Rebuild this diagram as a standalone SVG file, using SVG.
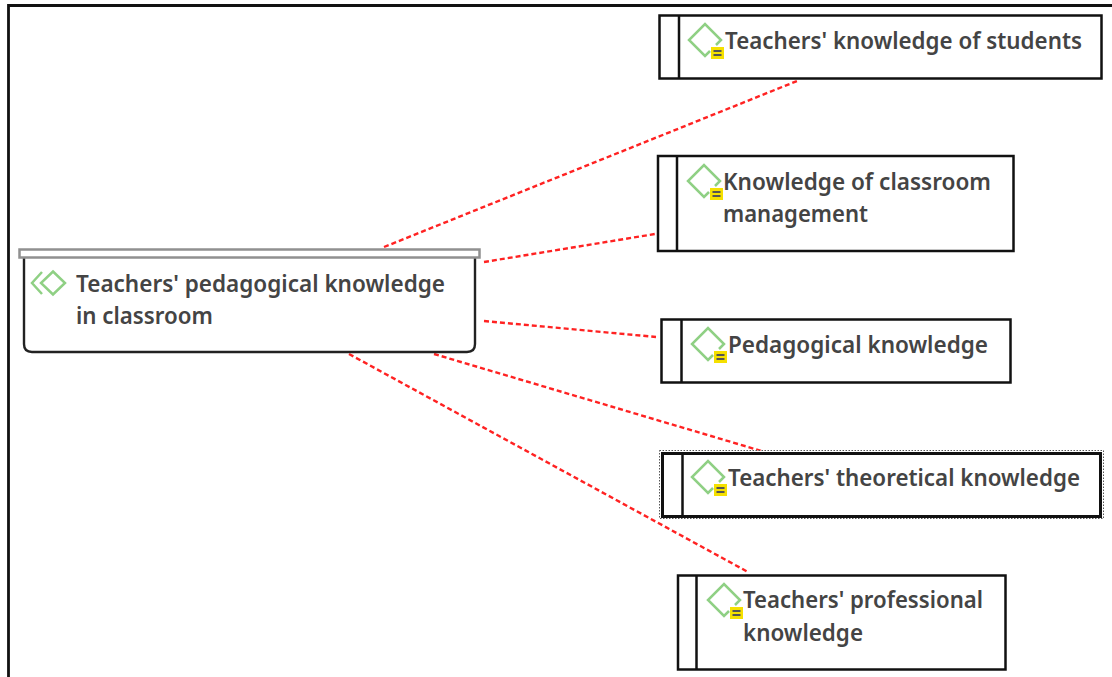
<svg xmlns="http://www.w3.org/2000/svg" width="1112" height="677" viewBox="0 0 1112 677">
<style>
.box{fill:#fff;stroke:#111;stroke-width:2.5}
.bar{fill:none;stroke:#111;stroke-width:2.5}
.t{font-family:"Noto Sans","Open Sans",sans-serif;font-size:23.500px;font-weight:600;fill:#444}
.d{fill:none;stroke:#8fd084;stroke-width:2.5;stroke-linejoin:miter}
.n{fill:#f5e000}
.nl{stroke:#555;stroke-width:2}
.c{stroke:#f22;stroke-width:2.400;stroke-dasharray:5 3;fill:none}
</style>
<defs>
<g id="ic">
<path class="d" d="M21 27 L16 32 L0 16 L16 0 L32 16 L27 21"/>
<rect class="n" x="22" y="23" width="13" height="12"/>
<path class="nl" d="M24.500 27H32.500M24.500 31H32.500"/>
</g>
</defs>
<rect width="1112" height="677" fill="#fff"/>
<path d="M8.500 677V5.500H1112" fill="none" stroke="#111" stroke-width="2.800"/>
<g id="connectors">
<path class="c" d="M384 247L797 81"/>
<path class="c" d="M484 262L655 234"/>
<path class="c" d="M484 321L656 337"/>
<path class="c" d="M434 354L765 452"/>
<path class="c" d="M349 354L748 572"/>
</g>
<g id="node-root">
<path d="M24 256V344Q24 352 32 352H467Q475 352 475 344V256" fill="#fff" stroke="#222" stroke-width="2.400"/>
<rect x="19.500" y="249.500" width="460" height="8" fill="#fff" stroke="#909090" stroke-width="2.500"/>
<path d="M42 272L32 283L42 294" fill="none" stroke="#8fd084" stroke-width="2.500"/>
<path class="d" d="M53 271.500L65 283L53 294.500L41 283Z"/>
<text class="t" x="76" y="292" textLength="369" lengthAdjust="spacingAndGlyphs">Teachers' pedagogical knowledge</text>
<text class="t" x="76" y="324" textLength="137" lengthAdjust="spacingAndGlyphs">in classroom</text>
</g>
<g id="node-students">
<rect class="box" x="659.500" y="15.500" width="442" height="63"/>
<path class="bar" d="M679 15.500V78.500"/>
<use href="#ic" x="689" y="24"/>
<text class="t" x="725" y="49" textLength="357" lengthAdjust="spacingAndGlyphs">Teachers' knowledge of students</text>
</g>
<g id="node-classroom">
<rect class="box" x="658" y="156" width="355.500" height="95"/>
<path class="bar" d="M677 156V251"/>
<use href="#ic" x="688" y="165"/>
<text class="t" x="723" y="190" textLength="268" lengthAdjust="spacingAndGlyphs">Knowledge of classroom</text>
<text class="t" x="723" y="222" textLength="145" lengthAdjust="spacingAndGlyphs">management</text>
</g>
<g id="node-pedagogical">
<rect class="box" x="661.500" y="319.500" width="349" height="63"/>
<path class="bar" d="M681.500 319.500V382.500"/>
<use href="#ic" x="692" y="328"/>
<text class="t" x="728" y="353" textLength="260" lengthAdjust="spacingAndGlyphs">Pedagogical knowledge</text>
</g>
<g id="node-theoretical">
<rect x="659.500" y="450.500" width="444" height="68" fill="#fff" stroke="#555" stroke-width="1" stroke-dasharray="1.500 1.500"/>
<rect class="box" x="662.500" y="453.500" width="438" height="63" style="stroke-width:3"/>
<path class="bar" d="M682.500 453.500V516.500"/>
<use href="#ic" x="692" y="461"/>
<text class="t" x="728" y="486" textLength="352" lengthAdjust="spacingAndGlyphs">Teachers' theoretical knowledge</text>
</g>
<g id="node-professional">
<rect class="box" x="678" y="575.500" width="327.500" height="94"/>
<path class="bar" d="M696.500 575.500V669.500"/>
<use href="#ic" x="708" y="584"/>
<text class="t" x="743" y="608" textLength="240" lengthAdjust="spacingAndGlyphs">Teachers' professional</text>
<text class="t" x="743" y="641" textLength="120" lengthAdjust="spacingAndGlyphs">knowledge</text>
</g>
</svg>
